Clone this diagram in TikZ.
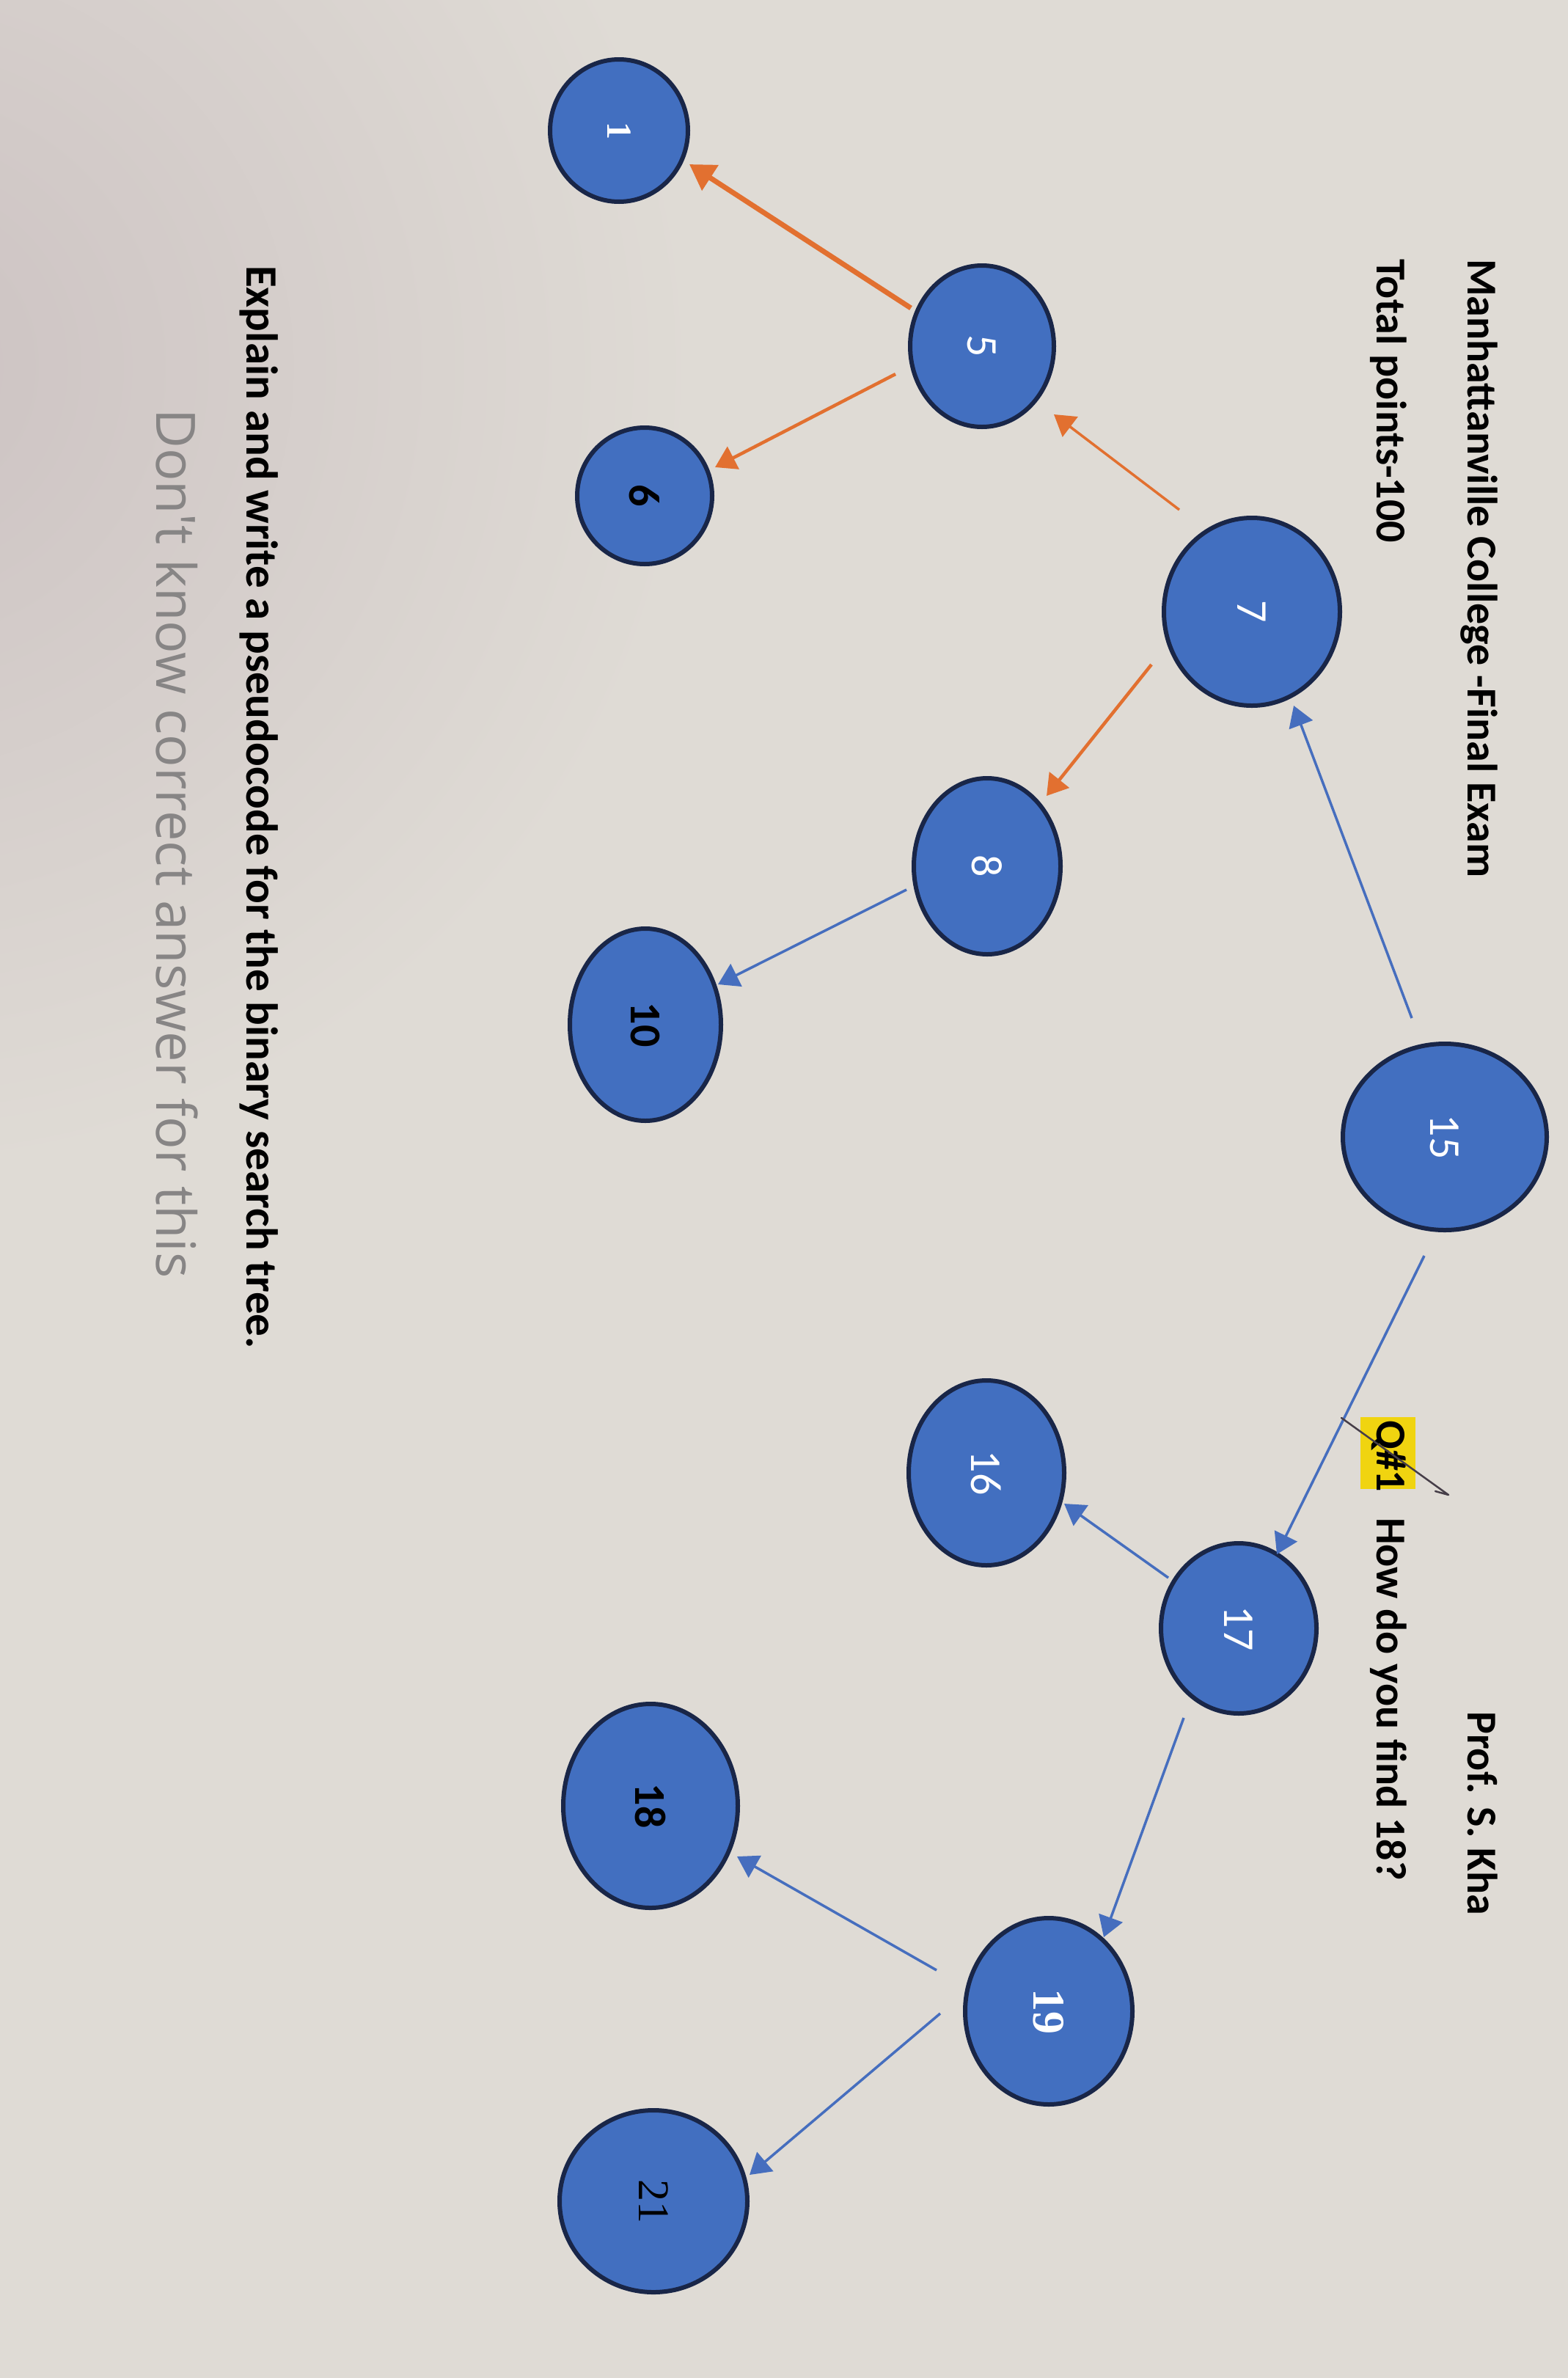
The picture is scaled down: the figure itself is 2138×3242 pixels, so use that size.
\documentclass[tikz,border=0pt]{standalone}
\usepackage{fontspec}
\usepackage{graphicx}
\setmainfont{Carlito}
\newfontfamily\serifnum{Liberation Serif}
\newfontfamily\hand{Open Sans}
\usetikzlibrary{shapes.geometric,arrows.meta,calc}
\definecolor{paper}{RGB}{223,219,213}
\definecolor{paperdark}{RGB}{204,194,194}
\definecolor{nodefill}{RGB}{66,111,192}
\definecolor{nodeline}{RGB}{25,38,72}
\definecolor{orangeline}{RGB}{226,112,48}
\definecolor{blueline}{RGB}{70,110,190}
\definecolor{hlyellow}{RGB}{240,212,16}
\definecolor{pencil}{RGB}{135,133,133}
\definecolor{penink}{RGB}{70,62,72}
\begin{document}
\begin{tikzpicture}[x=1pt,y=-1pt,
  tnode/.style={ellipse, draw=nodeline, line width=6pt, fill=nodefill, inner sep=0pt, rotate=-90},
  wlab/.style={text=white, font=\fontsize{60}{60}\selectfont},
  blab/.style={text=black, font=\bfseries\fontsize{60}{60}\selectfont},
  oline/.style={draw=orangeline, line width=4.5pt, -{Triangle[length=28pt,width=34pt]}, orangeline},
  bline/.style={draw=blueline, line width=3.5pt, -{Triangle[length=28pt,width=34pt]}, blueline},
  ptext/.style={rotate=-90, anchor=base west, inner sep=0pt, text=black, font=\bfseries\fontsize{58}{70}\selectfont}
]
% paper
\fill[paper] (0,0) rectangle (2138,3242);
\begin{scope}
\clip (0,0) rectangle (2138,3242);
\shade[inner color=paperdark, outer color=paper] (-150,500) circle (1100);
\end{scope}
\useasboundingbox (0,0) rectangle (2138,3242);

% nodes
\node[tnode, minimum width=194pt, minimum height=188pt] (n1) at (844,178) {\serifnum\bfseries\fontsize{48}{48}\selectfont\color{white}1};
\node[tnode, minimum width=220pt, minimum height=196pt, wlab] (n5) at (1339,472) {5};
\node[tnode, minimum width=186pt, minimum height=184pt, blab] (n6) at (879,676) {6};
\node[tnode, minimum width=256pt, minimum height=240pt, wlab] (n7) at (1707,834) {7};
\node[tnode, minimum width=240pt, minimum height=200pt, wlab] (n8) at (1346,1181) {8};
\node[tnode, minimum width=262pt, minimum height=206pt, blab] (n10) at (880,1397) {10};
\node[tnode, minimum width=254pt, minimum height=278pt, wlab] (n15) at (1970,1550) {15};
\node[tnode, minimum width=252pt, minimum height=212pt, wlab] (n16) at (1345,2008) {16};
\node[tnode, minimum width=232pt, minimum height=212pt, wlab] (n17) at (1689,2220) {17};
\node[tnode, minimum width=278pt, minimum height=238pt, blab] (n18) at (887,2462) {18};
\node[tnode, minimum width=254pt, minimum height=228pt] (n19) at (1430,2742) {\serifnum\bfseries\fontsize{62}{62}\selectfont\color{white}19};
\node[tnode, minimum width=248pt, minimum height=256pt] (n21) at (891,3001) {\serifnum\fontsize{60}{60}\selectfont\color{black}21};

% connectors
\draw[oline, line width=7pt, -{Triangle[length=34pt,width=40pt]}] ($(n5)+(-97,-52)$) -- ($(n1)+(96,46)$);
\draw[oline] ($(n5)+(-118,38)$) -- ($(n6)+(96,-39)$);
\draw[oline, line width=3.5pt] ($(n7)+(-99,-139)$) -- ($(n5)+(98,93)$);
\draw[oline] ($(n7)+(-137,72)$) -- ($(n8)+(81,-96)$);
\draw[bline] ($(n15)+(-45,-162)$) -- ($(n7)+(57,128)$);
\draw[bline] ($(n8)+(-110,32)$) -- ($(n10)+(99,-55)$);
\draw[bline] ($(n15)+(-28,162)$) -- ($(n17)+(52,-101)$);
\draw[bline] ($(n17)+(-96,-69)$) -- ($(n16)+(106,42)$);
\draw[bline] ($(n17)+(-75,122)$) -- ($(n19)+(75,-101)$);
\draw[bline] ($(n19)+(-153,-56)$) -- ($(n18)+(118,69)$);
\draw[bline] ($(n19)+(-148,3)$) -- ($(n21)+(131,-36)$);

% header texts
\node[ptext] (title) at (2001,353) {Manhattanville College -Final Exam};
\node[ptext] (points) at (1877,353) {Total points-100};
\node[ptext] (prof) at (2001,2333) {Prof. S. Kha};
\fill[hlyellow] (1855,1932) rectangle (1930,2030);
\node[ptext] (qnum) at (1877,1936) {Q\#1};
\node[ptext] (question) at (1877,2069) {How do you find 18?};
\draw[penink, line width=2.5pt, line cap=round, line join=round] (1829,1933) -- (1975,2038) -- (1957,2033);
\node[ptext, font=\bfseries\fontsize{61}{70}\selectfont] (explain) at (336,362) {Explain and write a pseudocode for the binary search tree.};

% handwritten answer
\node[rotate=-90, anchor=base west, inner sep=0pt, text=pencil, font=\hand\fontsize{74}{80}\selectfont] (answer) at (213,557) {Don't know correct answer for this};
\end{tikzpicture}
\end{document}
